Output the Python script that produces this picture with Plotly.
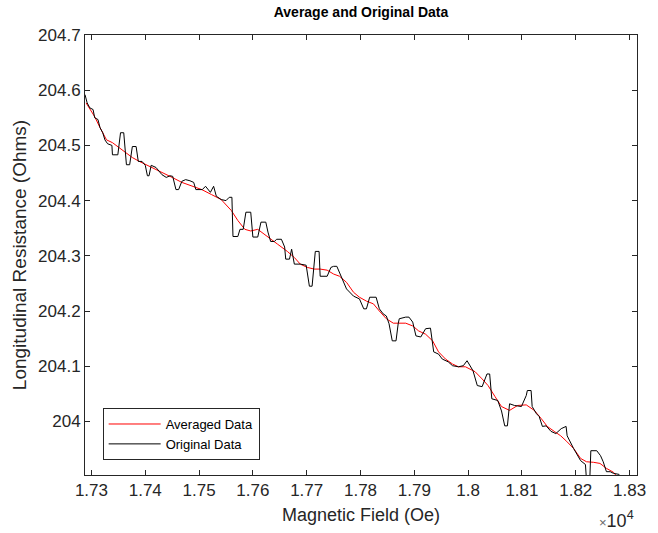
import plotly.graph_objects as go

# Averaged (smoothed) data
avg_field = [17290, 17297, 17306, 17316, 17328, 17339, 17352, 17365, 17376, 17389,
             17402, 17413, 17431, 17450, 17468, 17486, 17505, 17523, 17541, 17560,
             17572, 17585, 17596, 17609, 17622, 17633, 17646, 17664, 17677, 17688,
             17701, 17714, 17725, 17738, 17750, 17761, 17774, 17787, 17798, 17811,
             17824, 17835, 17848, 17861, 17872, 17884, 17897, 17908, 17921, 17934,
             17945, 17958, 17971, 17982, 17995, 18013, 18026, 18037, 18050, 18062,
             18077, 18092, 18108, 18123, 18136, 18147, 18160, 18172, 18183, 18196,
             18209, 18220, 18233, 18245, 18257, 18270, 18275]
avg_res = [204.577, 204.565, 204.552, 204.532, 204.510, 204.505, 204.496, 204.487, 204.478, 204.471,
           204.465, 204.460, 204.451, 204.442, 204.433, 204.426, 204.420, 204.411, 204.402, 204.382,
           204.364, 204.348, 204.345, 204.348, 204.339, 204.330, 204.321, 204.308, 204.297, 204.285,
           204.279, 204.276, 204.276, 204.274, 204.267, 204.263, 204.252, 204.234, 204.225, 204.218,
           204.213, 204.200, 204.186, 204.178, 204.178, 204.178, 204.173, 204.164, 204.158, 204.146,
           204.126, 204.113, 204.104, 204.099, 204.099, 204.090, 204.077, 204.065, 204.045, 204.027,
           204.020, 204.029, 204.030, 204.020, 204.005, 203.991, 203.982, 203.974, 203.964, 203.951,
           203.933, 203.927, 203.926, 203.924, 203.915, 203.908, 203.902]

# Original (raw) data
orig_field = [17288, 17292, 17297, 17303, 17306, 17312, 17316, 17321, 17325, 17330,
              17338, 17339, 17349, 17354, 17360, 17365, 17371, 17376, 17383, 17387,
              17394, 17400, 17404, 17407, 17411, 17420, 17431, 17439, 17446, 17451,
              17457, 17462, 17468, 17475, 17483, 17490, 17494, 17499, 17506, 17512,
              17521, 17527, 17532, 17541, 17550, 17556, 17561, 17563, 17572, 17576,
              17582, 17587, 17596, 17600, 17609, 17615, 17624, 17628, 17633, 17640,
              17644, 17653, 17659, 17661, 17668, 17672, 17677, 17688, 17699, 17705,
              17710, 17716, 17723, 17725, 17738, 17745, 17750, 17756, 17765, 17774,
              17787, 17798, 17806, 17811, 17817, 17829, 17835, 17842, 17848, 17853,
              17859, 17866, 17870, 17872, 17884, 17890, 17897, 17903, 17912, 17921,
              17930, 17936, 17945, 17952, 17963, 17971, 17982, 17991, 17998, 18004,
              18009, 18017, 18026, 18035, 18040, 18044, 18055, 18062, 18068, 18073,
              18077, 18086, 18099, 18108, 18110, 18117, 18119, 18127, 18132, 18138,
              18145, 18154, 18163, 18173, 18182, 18184, 18191, 18196, 18209, 18215,
              18218, 18220, 18226, 18228, 18239, 18246, 18251, 18257, 18264, 18270,
              18281]
orig_res = [204.592, 204.577, 204.568, 204.565, 204.550, 204.547, 204.532, 204.523, 204.510, 204.503,
            204.500, 204.483, 204.483, 204.523, 204.523, 204.465, 204.465, 204.498, 204.498, 204.471,
            204.471, 204.464, 204.445, 204.445, 204.464, 204.460, 204.447, 204.442, 204.445, 204.444,
            204.420, 204.420, 204.435, 204.438, 204.436, 204.433, 204.420, 204.420, 204.420, 204.426,
            204.415, 204.426, 204.408, 204.402, 204.400, 204.406, 204.406, 204.335, 204.335, 204.348,
            204.348, 204.379, 204.379, 204.334, 204.334, 204.361, 204.361, 204.343, 204.326, 204.326,
            204.330, 204.330, 204.316, 204.294, 204.294, 204.312, 204.285, 204.285, 204.283, 204.245,
            204.245, 204.308, 204.308, 204.263, 204.263, 204.279, 204.281, 204.281, 204.261, 204.240,
            204.227, 204.222, 204.204, 204.204, 204.225, 204.225, 204.204, 204.195, 204.191, 204.177,
            204.146, 204.146, 204.177, 204.186, 204.189, 204.189, 204.180, 204.155, 204.153, 204.168,
            204.169, 204.126, 204.122, 204.113, 204.108, 204.101, 204.099, 204.101, 204.110, 204.101,
            204.092, 204.065, 204.063, 204.086, 204.086, 204.041, 204.038, 204.019, 203.992, 203.992,
            204.032, 204.029, 204.027, 204.047, 204.056, 204.056, 204.027, 204.014, 204.009, 203.991,
            203.992, 203.982, 203.978, 203.987, 203.991, 203.974, 203.960, 203.951, 203.929, 203.924,
            203.922, 203.893, 203.893, 203.947, 203.947, 203.938, 203.927, 203.909, 203.909, 203.906,
            203.904]

x_tick_vals = [17300, 17400, 17500, 17600, 17700, 17800, 17900, 18000, 18100, 18200, 18300]
x_tick_text = ["1.73", "1.74", "1.75", "1.76", "1.77", "1.78", "1.79", "1.8", "1.81", "1.82", "1.83"]
y_tick_vals = [204.0, 204.1, 204.2, 204.3, 204.4, 204.5, 204.6, 204.7]
y_tick_text = ["204", "204.1", "204.2", "204.3", "204.4", "204.5", "204.6", "204.7"]

FONT = "Liberation Sans, Arial, sans-serif"
TXT = "#262626"
AX = "#262626"

fig = go.Figure()
fig.add_trace(go.Scatter(x=avg_field, y=avg_res, mode="lines", name="Averaged Data",
                         line=dict(color="#ff0000", width=1)))
fig.add_trace(go.Scatter(x=orig_field, y=orig_res, mode="lines", name="Original Data",
                         line=dict(color="#000000", width=1)))

fig.update_layout(
    width=658, height=533,
    margin=dict(l=85, r=14, t=35, b=56),
    paper_bgcolor="white", plot_bgcolor="white",
    font=dict(family=FONT, color=TXT, size=15),
    title=dict(text="<b>Average and Original Data</b>", xref="paper", x=0.5, xanchor="center",
               yref="container", y=0.977, yanchor="middle", font=dict(size=14, color="#000000")),
    legend=dict(x=0.032, y=0.034, xanchor="left", yanchor="bottom",
                bgcolor="white", bordercolor="#262626", borderwidth=1, itemwidth=52,
                font=dict(size=13, color="#000000"), tracegroupgap=0),
    showlegend=True,
)
fig.update_xaxes(range=[17288, 18313.8], tickvals=x_tick_vals, ticktext=x_tick_text,
                 ticks="inside", ticklen=5, tickcolor=AX, showline=True, linecolor=AX,
                 linewidth=1, mirror="ticks", showgrid=False, zeroline=False,
                 tickfont=dict(size=17), title=dict(text="Magnetic Field (Oe)", font=dict(size=18), standoff=8))
fig.update_yaxes(range=[203.903, 204.7], tickvals=y_tick_vals, ticktext=y_tick_text,
                 ticks="inside", ticklen=5, tickcolor=AX, showline=True, linecolor=AX,
                 linewidth=1, mirror="ticks", showgrid=False, zeroline=False,
                 tickfont=dict(size=17), title=dict(text="Longitudinal Resistance (Ohms)", font=dict(size=19), standoff=6))
fig.add_annotation(text="<span style='font-size:13px;color:#666666'>\u00d7</span>10<sup>4</sup>",
                   xref="paper", yref="paper", x=0.998, y=-0.1,
                   xanchor="right", yanchor="middle", showarrow=False, font=dict(size=18, color=TXT))

fig.write_html("out.html")
